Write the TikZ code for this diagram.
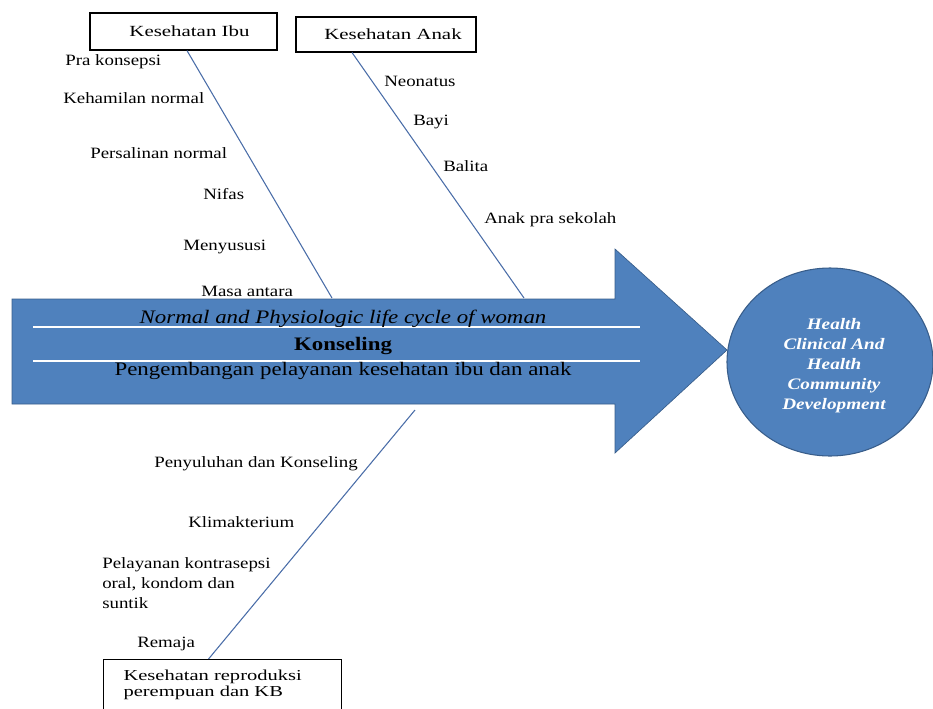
\documentclass[tikz,border=0pt]{standalone}
\usepackage{fontspec}
\setmainfont{Liberation Serif}
\newfontfamily\lblf[FakeStretch=1.2]{Liberation Serif}
\newfontfamily\boxff[FakeStretch=1.35]{Liberation Serif}
\usetikzlibrary{shapes.geometric,calc}
\definecolor{fillblue}{HTML}{4F81BD}
\definecolor{edgeblue}{HTML}{385D8A}
\definecolor{linkblue}{HTML}{4A6DA8}
\begin{document}
\begin{tikzpicture}[x=0.75pt,y=-0.75pt,
  lbl/.style={anchor=base west, inner sep=0pt, align=left, font=\lblf\fontsize{11.8}{15}\selectfont},
  catbox/.style={draw=black, line width=0.8pt, inner sep=0pt, font=\boxff\fontsize{11.6}{14}\selectfont},
  bone/.style={draw=linkblue, line width=0.8pt},
  arrowtxt/.style={anchor=base, inner sep=0pt, font=\lblf\fontsize{14.3}{17}\selectfont},
  arrowit/.style={arrowtxt, font=\lblf\itshape\fontsize{14.3}{17}\selectfont},
  arrowbf/.style={arrowtxt, font=\lblf\bfseries\fontsize{14.3}{17}\selectfont},
  goalstyle/.style={ellipse, draw=edgeblue, line width=0.8pt, fill=fillblue, inner sep=0pt,
    minimum width=154.5pt, minimum height=141pt},
  goaltxt/.style={inner sep=0pt, text=white, align=center,
    font=\lblf\bfseries\itshape\fontsize{12}{15}\selectfont},
  divider/.style={draw=white, line width=1.5pt}
]
\useasboundingbox (0,0) rectangle (933,708);
\clip (0,0) rectangle (933,708);

% big arrow
\filldraw[fill=fillblue, draw=edgeblue, line width=0.5pt]
  (12,299) -- (615,299) -- (615,249) -- (727,350) -- (615,453) -- (615,404) -- (12,404) -- cycle;
\draw[divider] (33,327) -- (640,327);
\draw[divider] (33,361) -- (640,361);

\node[arrowit] (cycle) at (343,323) {Normal and Physiologic life cycle of woman};
\node[arrowbf] (konsel) at (343,350) {Konseling};
\node[arrowtxt] (kembang) at (343,375) {Pengembangan pelayanan kesehatan ibu dan anak};

% goal ellipse
\node[goalstyle] (goal) at (830,362) {};
\node[goaltxt] (goaltext) at (834,366) {Health\\Clinical And\\Health\\Community\\Development};

% category boxes
\node[catbox, minimum width=140.25pt, minimum height=27.75pt] (ibu) at (183.5,31.5) {\hspace*{9pt}Kesehatan Ibu};
\node[catbox, minimum width=135pt, minimum height=26.25pt] (anak) at (386,34.5) {\hspace*{10.5pt}Kesehatan Anak};
\node[catbox, anchor=north west, text width=148.5pt, align=left, inner xsep=15pt,
  minimum height=37.5pt, font=\boxff\fontsize{11.4}{12}\selectfont] (repro) at (103,659)
  {Kesehatan reproduksi\\perempuan dan KB};

% bones
\coordinate (e1) at (332,298);
\coordinate (e2) at (524,298);
\coordinate (e3) at (415,410);
\draw[bone] ([xshift=2.6pt]ibu.south) -- (e1);
\draw[bone] ([xshift=-25.5pt]anak.south) -- (e2);
\draw[bone] ([xshift=-10.5pt]repro.north) -- (e3);

% labels
\node[lbl] (pra) at (65,65) {Pra konsepsi};
\node[lbl] (hamil) at (63,103) {Kehamilan normal};
\node[lbl] (salin) at (90,158) {Persalinan normal};
\node[lbl] (nifas) at (203,199) {Nifas};
\node[lbl] (susu) at (183,250) {Menyususi};
\node[lbl] (masa) at (201,296) {Masa antara};
\node[lbl] (neo) at (384,86) {Neonatus};
\node[lbl] (bayi) at (413,125) {Bayi};
\node[lbl] (balita) at (443,171) {Balita};
\node[lbl] (apras) at (484,223) {Anak pra sekolah};
\node[lbl] (suluh) at (154,467) {Penyuluhan dan Konseling};
\node[lbl] (klimak) at (188,527) {Klimakterium};
\node[lbl] (kontra) at (102,608) {Pelayanan kontrasepsi\\oral, kondom dan\\suntik};
\node[lbl] (remaja) at (137,647) {Remaja};
\end{tikzpicture}
\end{document}
